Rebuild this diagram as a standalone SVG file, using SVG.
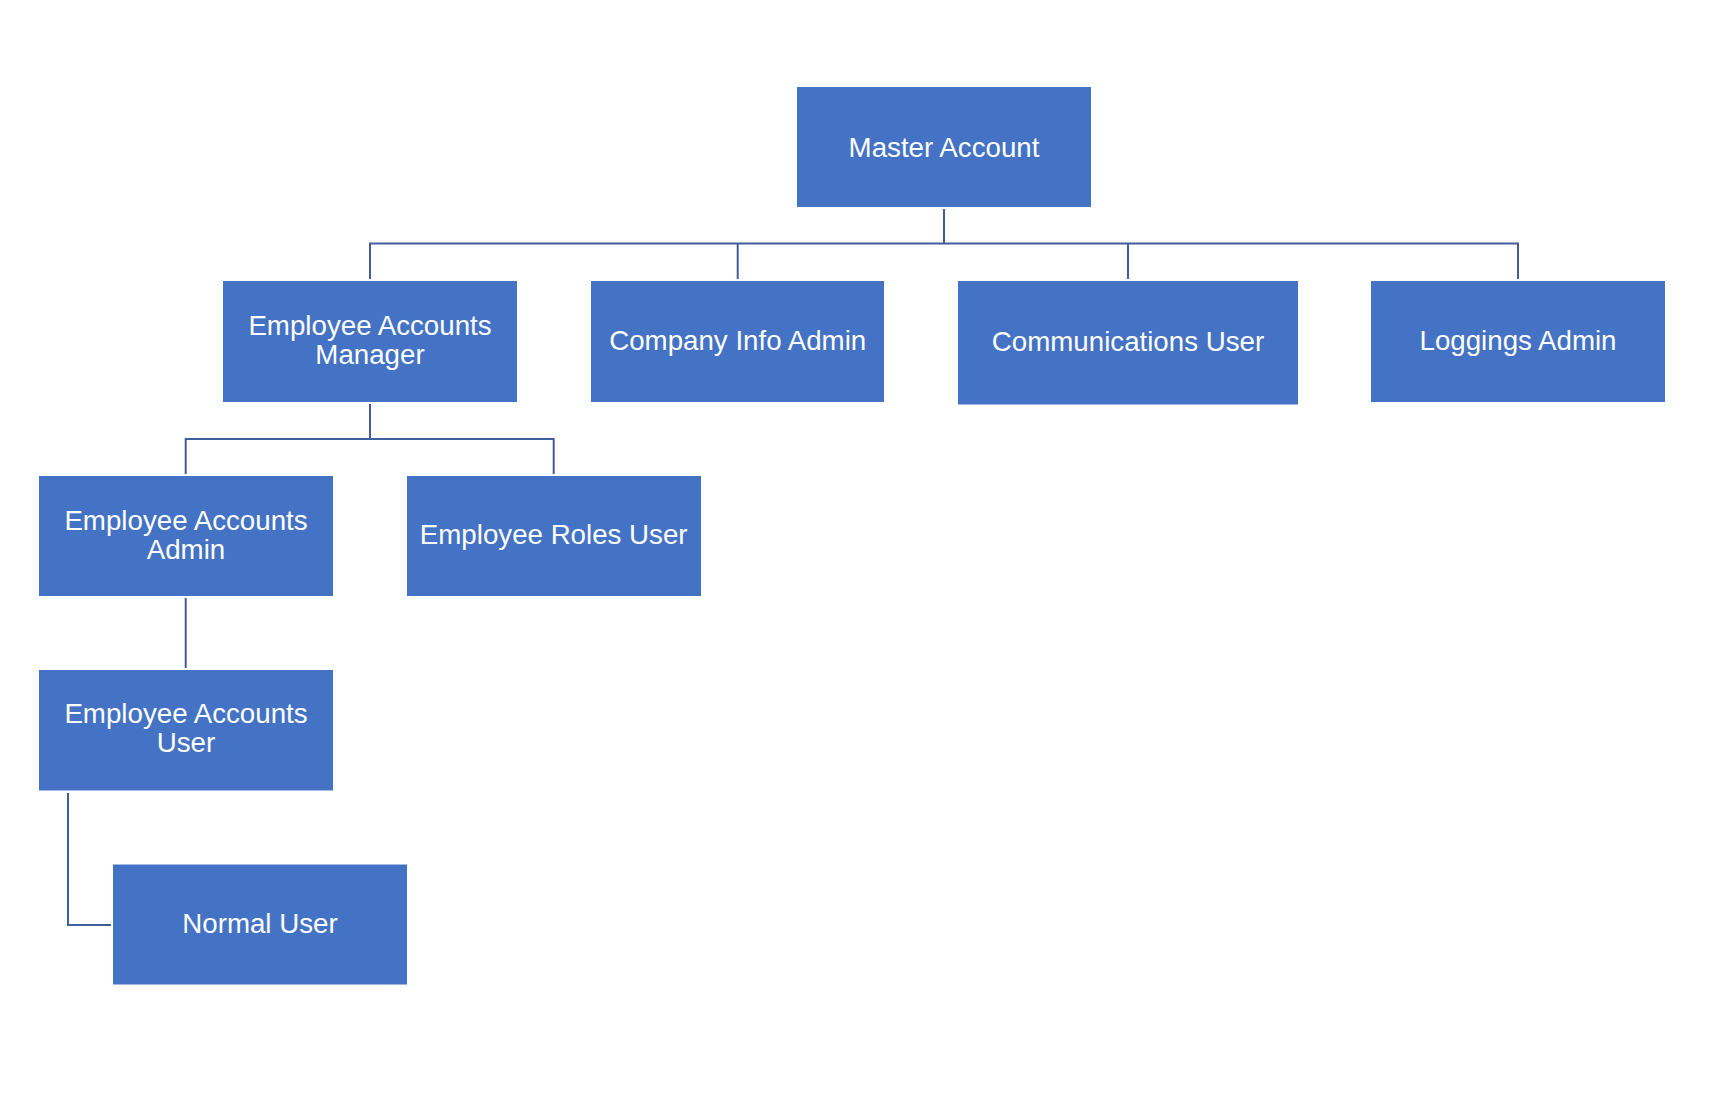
<svg xmlns="http://www.w3.org/2000/svg" width="1713" height="1098" viewBox="0 0 1713 1098">
<style>
.box{fill:#4472C4;}
.lbl{fill:#FFFFFF;font-family:"Liberation Sans",Arial,sans-serif;font-size:27.7px;text-anchor:middle;}
.conn{fill:none;stroke:#3F5F9C;stroke-width:2;}
</style>
<rect width="1713" height="1098" fill="#FFFFFF"/>
<g id="connectors">
<path class="conn" d="M944,209 V243.5 M370,279 V243.5 H1518 V279 M737.7,243.5 V279 M1128,243.5 V279"/>
<path class="conn" d="M370,404 V439 M185.7,474 V439 H553.7 V474"/>
<path class="conn" d="M185.7,598 V668"/>
<path class="conn" d="M68,793 V925 H111"/>
</g>
<g id="master-account"><rect class="box" x="797" y="87" width="294" height="120"/><text class="lbl" x="944" y="157">Master Account</text></g>
<g id="employee-accounts-manager"><rect class="box" x="223" y="281" width="294" height="121"/><text class="lbl" x="370" y="335">Employee Accounts</text><text class="lbl" x="370" y="364">Manager</text></g>
<g id="company-info-admin"><rect class="box" x="591" y="281" width="293" height="121"/><text class="lbl" x="737.7" y="350">Company Info Admin</text></g>
<g id="communications-user"><rect class="box" x="958" y="281" width="340" height="123.5"/><text class="lbl" x="1128" y="351">Communications User</text></g>
<g id="loggings-admin"><rect class="box" x="1371" y="281" width="294" height="121"/><text class="lbl" x="1518" y="350">Loggings Admin</text></g>
<g id="employee-accounts-admin"><rect class="box" x="39" y="476" width="294" height="120"/><text class="lbl" x="186" y="530">Employee Accounts</text><text class="lbl" x="186" y="559">Admin</text></g>
<g id="employee-roles-user"><rect class="box" x="407" y="476" width="294" height="120"/><text class="lbl" x="553.7" y="544">Employee Roles User</text></g>
<g id="employee-accounts-user"><rect class="box" x="39" y="670" width="294" height="120.5"/><text class="lbl" x="186" y="723">Employee Accounts</text><text class="lbl" x="186" y="752">User</text></g>
<g id="normal-user"><rect class="box" x="113" y="864.5" width="294" height="120"/><text class="lbl" x="260" y="933">Normal User</text></g>
</svg>
